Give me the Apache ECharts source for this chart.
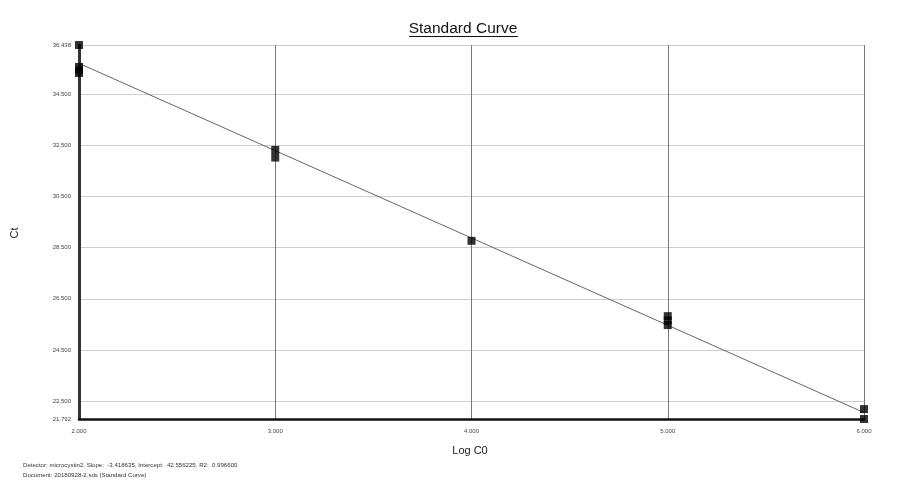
<!DOCTYPE html>
<html><head><meta charset="utf-8">
<script src="https://cdn.jsdelivr.net/npm/echarts@6/dist/echarts.min.js"></script>
<style>html,body{margin:0;padding:0;background:#fff}#c{width:900px;height:500px}</style>
</head><body><div id="c"></div>
<script>
// Standard points (Log C0, Ct)
const logC0 = [2, 2, 2, 2, 3, 3, 4, 5, 5, 5, 6, 6];
const ctValues = [36.438, 35.58, 35.45, 35.34, 32.33, 32.03, 28.77, 25.82, 25.65, 25.47, 22.18, 21.792];
// Regression line endpoints
const fitX = [2, 6];
const fitY = [35.719, 22.044];
// Axis ticks
const yTicks = [21.792, 22.5, 24.5, 26.5, 28.5, 30.5, 32.5, 34.5, 36.438];
const xTicks = [2, 3, 4, 5, 6];
const titleText = 'Standard Curve';
const xName = 'Log C0';
const yName = 'Ct';
const footer1 = 'Detector: microcystin2, Slope:  -3.418635, Intercept:  42.556225, R2:  0.996600';
const footer2 = 'Document: 20180928-2.sds (Standard Curve)';

const chart = echarts.init(document.getElementById('c'), null, {renderer: 'canvas'});
const font = 'Liberation Sans, Arial, sans-serif';
chart.setOption({
  animation: false,
  backgroundColor: '#fff',
  grid: {left: 79, right: 36, top: 45, bottom: 81, containLabel: false},
  xAxis: {
    type: 'value', min: xTicks[0], max: xTicks[xTicks.length - 1], interval: 1,
    axisLine: {show: true, onZero: false, lineStyle: {color: '#111', width: 2.5}},
    axisTick: {show: false},
    splitLine: {show: true, lineStyle: {color: '#7a7a7a', width: 1}},
    axisLabel: {fontSize: 6, color: '#444', fontFamily: font, margin: 9,
      formatter: v => v.toFixed(3)}
  },
  yAxis: {
    type: 'value', min: yTicks[0], max: yTicks[yTicks.length - 1],
    axisLine: {show: true, onZero: false, lineStyle: {color: '#333', width: 3}},
    axisTick: {show: false, customValues: yTicks},
    splitLine: {show: true, lineStyle: {color: '#cfcfcf', width: 1}},
    axisLabel: {customValues: yTicks, fontSize: 6, color: '#444', fontFamily: font, margin: 8,
      formatter: v => v.toFixed(3)}
  },
  series: [
    {type: 'line', data: fitX.map((x, i) => [x, fitY[i]]), symbol: 'none',
     lineStyle: {color: '#666', width: 1}, z: 2},
    {type: 'scatter', data: logC0.map((x, i) => [x, ctValues[i]]), symbol: 'rect',
     symbolSize: 8, itemStyle: {color: '#000'}, z: 3}
  ],
  graphic: [
    {type: 'text', x: 463, y: 29, style: {text: titleText, font: '15.5px ' + font, fill: '#111',
      align: 'center', verticalAlign: 'middle'}},
    {type: 'line', shape: {x1: 409, y1: 36.5, x2: 518, y2: 36.5}, style: {stroke: '#111', lineWidth: 1}},
    {type: 'text', x: 470, y: 451, style: {text: xName, font: '11px ' + font, fill: '#222',
      align: 'center', verticalAlign: 'middle'}},
    {type: 'text', x: 15, y: 233, rotation: Math.PI / 2, style: {text: yName, font: '11px ' + font, fill: '#222',
      align: 'center', verticalAlign: 'middle'}},
    {type: 'text', x: 23, y: 465, style: {text: footer1, font: '6.1px ' + font, fill: '#333',
      align: 'left', verticalAlign: 'middle'}},
    {type: 'text', x: 23, y: 475, style: {text: footer2, font: '6.1px ' + font, fill: '#333',
      align: 'left', verticalAlign: 'middle'}}
  ]
});
</script></body></html>
